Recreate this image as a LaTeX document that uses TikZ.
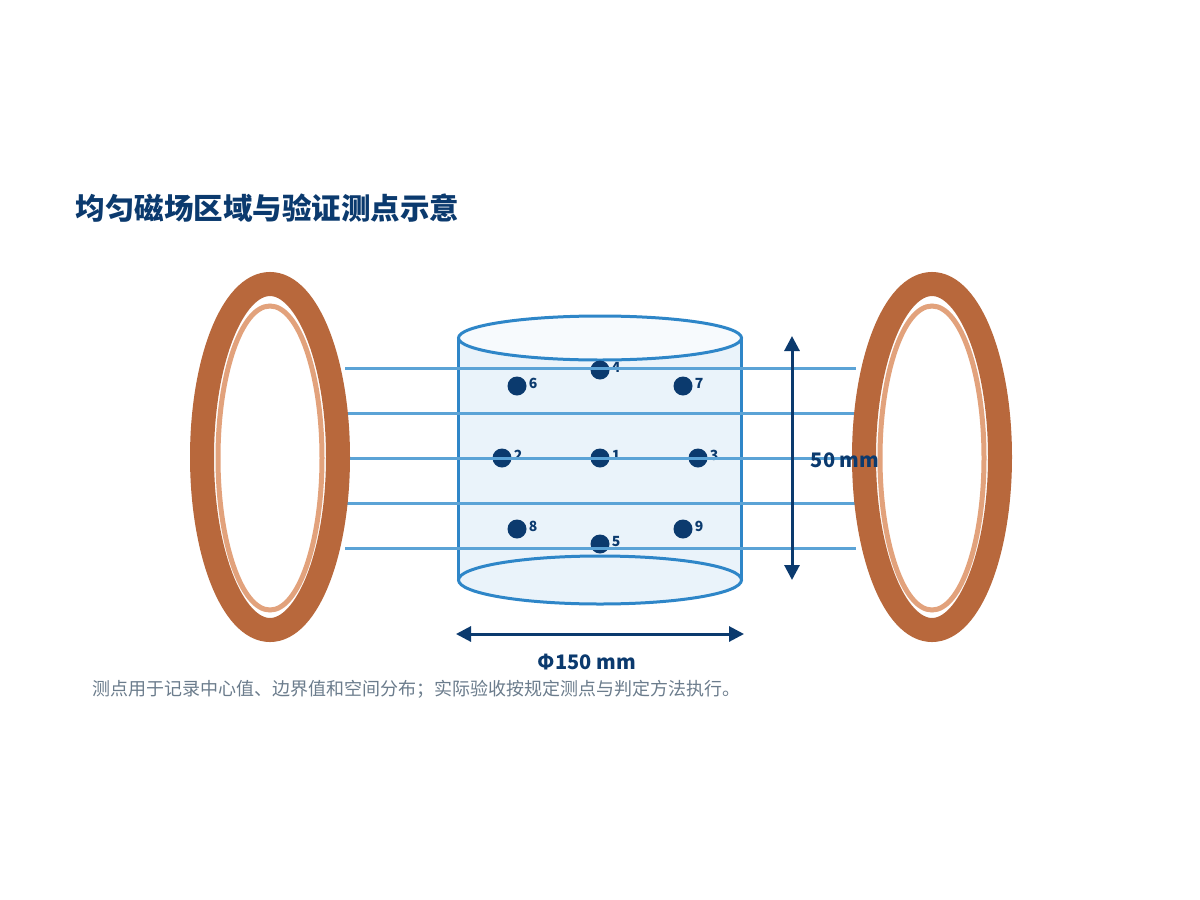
\documentclass[tikz,border=0pt]{standalone}
\usepackage{fontspec}
\setmainfont{Noto Sans CJK SC}
\usetikzlibrary{arrows.meta}
\definecolor{navy}{HTML}{0B3A6E}
\definecolor{copper}{HTML}{B8683C}
\definecolor{copperlt}{HTML}{E2A27C}
\definecolor{fieldblue}{HTML}{5BA3D6}
\definecolor{cylblue}{HTML}{2E86C8}
\definecolor{cylfill}{HTML}{EAF3FA}
\definecolor{capgray}{HTML}{6B7C8C}
\tikzset{
  coil/.style={draw=copper, line width=24pt},
  coilin/.style={draw=copperlt, line width=5pt},
  field/.style={draw=fieldblue, line width=3pt},
  dot/.style={circle, fill=navy, inner sep=0pt, minimum size=19pt},
  num/.style={font=\bfseries\fontsize{14}{14}\selectfont, text=navy},
  dim/.style={draw=navy, line width=3pt, {Triangle[length=15pt,width=15pt]}-{Triangle[length=15pt,width=15pt]}},
}
\begin{document}
\begin{tikzpicture}[x=1pt, y=-1pt]
  \useasboundingbox[fill=white] (0,0) rectangle (1200,900);

  \node[anchor=west, font=\bfseries\fontsize{29.5}{30}\selectfont, text=navy] (title) at (72,208) {均匀磁场区域与验证测点示意};

  % cylinder
  \fill[cylfill] (458,338) -- (458,580) arc[start angle=180, end angle=360, x radius=141.5, y radius=24] -- (741,338) -- cycle;
  \draw[cylblue, line width=3pt, fill=cylfill] (600,580) ellipse[x radius=141.5, y radius=24];
  \draw[cylblue, line width=3pt] (458,338) -- (458,580) (741,338) -- (741,580);
  \draw[cylblue, line width=3pt, fill=cylfill!40] (600,338) ellipse[x radius=141.5, y radius=22];

  % measuring points
  \foreach \n/\x/\y in {1/600/458, 2/502/458, 3/698/458, 4/600/370, 5/600/544,
                        6/517/386, 7/683/386, 8/517/529, 9/683/529} {
    \node[dot] (p\n) at (\x,\y) {};
    \node[num, anchor=south west, inner sep=1pt] (l\n) at ([xshift=1pt, yshift=-4pt]p\n.east) {\n};
  }

  % field lines
  \foreach \y [count=\i] in {368,413,458,503,548} {
    \coordinate (fa\i) at (345,\y);
    \coordinate (fb\i) at (856,\y);
    \draw[field] (fa\i) -- (fb\i);
  }

  % coils
  \draw[coil] (270,457) ellipse[x radius=68, y radius=173];
  \draw[coilin] (270,458) ellipse[x radius=52, y radius=152];
  \draw[coil] (932,457) ellipse[x radius=68, y radius=173];
  \draw[coilin] (932,458) ellipse[x radius=52, y radius=152];

  % dimensions
  \coordinate (ht) at (792,336);
  \coordinate (hb) at (792,580);
  \draw[dim] (ht) -- (hb);
  \node[font=\bfseries\fontsize{20}{20}\selectfont, text=navy] (hlab) at (845,460) {50 mm};
  \coordinate (wl) at (456,634);
  \coordinate (wr) at (744,634);
  \draw[dim] (wl) -- (wr);
  \node[font=\bfseries\fontsize{20}{20}\selectfont, text=navy] (wlab) at (587,662) {Φ150 mm};

  \node[anchor=west, font=\fontsize{18}{18}\selectfont, text=capgray] (cap) at (89,689) {测点用于记录中心值、边界值和空间分布；实际验收按规定测点与判定方法执行。};
\end{tikzpicture}
\end{document}
